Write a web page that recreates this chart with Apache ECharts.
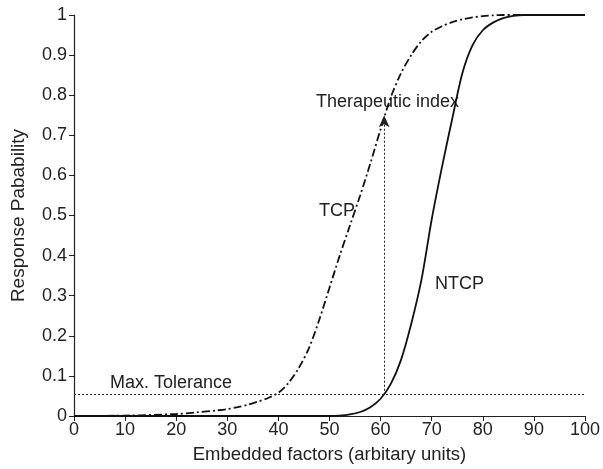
<!DOCTYPE html>
<html><head><meta charset="utf-8">
<script src="https://cdn.jsdelivr.net/npm/echarts@6/dist/echarts.min.js"></script>
<style>html,body{margin:0;padding:0;background:#fff}#c{width:603px;height:469px}</style>
</head><body><div id="c"></div>
<script>
const tcpX = [0,10,20,24,28,30,32,34,36,38,40,42,44,46,48,50,52,54,56,58,60,62,64,66,68,70,72,74,76,78,80,82,84,86,90,100];
const tcpY = [0,0.001,0.005,0.009,0.014,0.017,0.022,0.028,0.036,0.045,0.058,0.083,0.12,0.17,0.24,0.32,0.40,0.475,0.55,0.63,0.715,0.795,0.855,0.9,0.935,0.958,0.972,0.982,0.989,0.994,0.997,0.999,1,1,1,1];
const ntcpX = [0,10,20,30,40,46,50,52,54,56,58,60,62,64,66,68,70,72,74,76,78,80,82,84,86,88,90,100];
const ntcpY = [0,0,0,0,0,0,0,0.001,0.004,0.01,0.022,0.043,0.08,0.14,0.23,0.34,0.49,0.62,0.74,0.855,0.925,0.962,0.981,0.992,0.998,1,1,1];
const maxTolerance = 0.053;
const indexX = 60.7;
const indexTop = 0.75;
const yTicks = ['0','0.1','0.2','0.3','0.4','0.5','0.6','0.7','0.8','0.9','1'];

const font = 'Liberation Sans, Arial, sans-serif';
const chart = echarts.init(document.getElementById('c'));
chart.setOption({
  animation: false,
  grid: {left: 74, right: 17, top: 15, bottom: 50},
  xAxis: {
    type: 'value', min: 0, max: 100, interval: 10,
    name: 'Embedded factors (arbitary units)', nameLocation: 'middle', nameGap: 29,
    nameTextStyle: {color: '#222', fontSize: 18.5, fontFamily: font},
    axisLine: {lineStyle: {color: '#222', width: 1.2}},
    axisTick: {length: 5, lineStyle: {color: '#222'}},
    axisLabel: {color: '#222', fontSize: 18, fontFamily: font, margin: 5},
    splitLine: {show: false}
  },
  yAxis: {
    type: 'value', min: 0, max: 1, interval: 0.1,
    name: 'Response Pabability', nameLocation: 'middle', nameGap: 46,
    nameTextStyle: {color: '#222', fontSize: 19, fontFamily: font},
    axisLine: {show: true, lineStyle: {color: '#222', width: 1.2}},
    axisTick: {show: true, length: 5, lineStyle: {color: '#222'}},
    axisLabel: {color: '#222', fontSize: 18, fontFamily: font, margin: 7,
      formatter: (v) => yTicks[Math.round(v * 10)]},
    splitLine: {show: false}
  },
  series: [
    {
      type: 'line', name: 'TCP', symbol: 'none', smooth: 0.3,
      data: tcpX.map((x, i) => [x, tcpY[i]]),
      lineStyle: {color: '#111', width: 1.8, type: [8, 3, 2, 3]},
      markLine: {
        silent: true, symbol: 'none',
        label: {show: false},
        lineStyle: {color: '#222', type: [2, 2], width: 1},
        data: [
          [{coord: [0, maxTolerance], symbol: 'none'}, {coord: [100, maxTolerance], symbol: 'none'}],
          [{coord: [indexX, maxTolerance], symbol: 'none'}, {coord: [indexX, indexTop], symbol: 'arrow', symbolSize: [8, 12]}]
        ]
      }
    },
    {
      type: 'line', name: 'NTCP', symbol: 'none', smooth: 0.3,
      data: ntcpX.map((x, i) => [x, ntcpY[i]]),
      lineStyle: {color: '#111', width: 1.8}
    }
  ],
  graphic: [
    {type: 'text', left: 316, top: 93, style: {text: 'Therapeutic index', font: '18px ' + font, fill: '#222'}},
    {type: 'text', left: 319, top: 202, style: {text: 'TCP', font: '18px ' + font, fill: '#222'}},
    {type: 'text', left: 435, top: 275, style: {text: 'NTCP', font: '18px ' + font, fill: '#222'}},
    {type: 'text', left: 110, top: 374, style: {text: 'Max. Tolerance', font: '18px ' + font, fill: '#222'}}
  ]
});
</script></body></html>
